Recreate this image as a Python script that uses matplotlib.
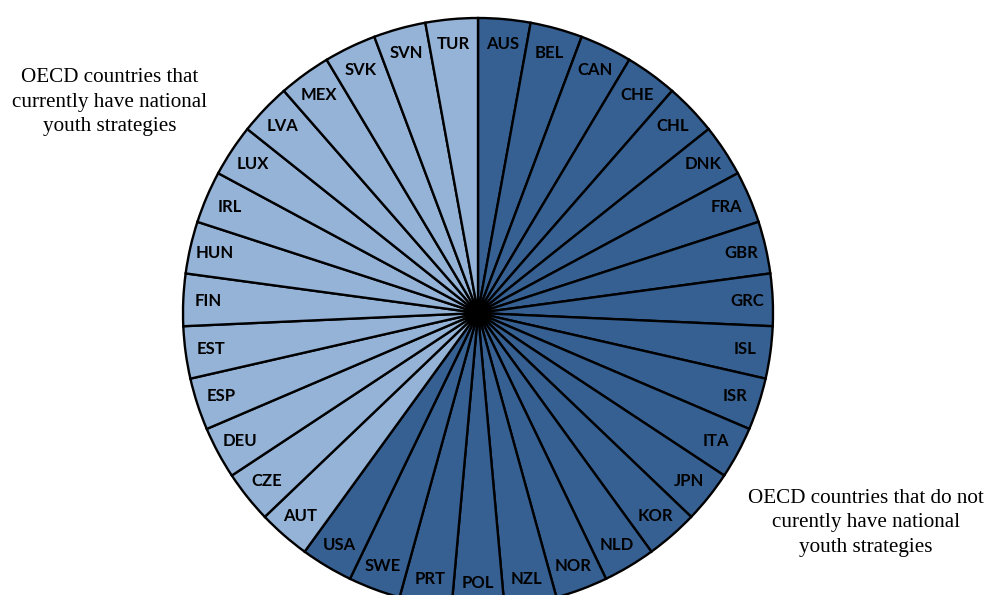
import matplotlib
matplotlib.use("Agg")
import matplotlib.pyplot as plt

# Countries, clockwise from 12 o'clock
no_strategy = ["AUS", "BEL", "CAN", "CHE", "CHL", "DNK", "FRA", "GBR", "GRC",
               "ISL", "ISR", "ITA", "JPN", "KOR", "NLD", "NOR", "NZL", "POL",
               "PRT", "SWE", "USA"]
has_strategy = ["AUT", "CZE", "DEU", "ESP", "EST", "FIN", "HUN", "IRL", "LUX",
                "LVA", "MEX", "SVK", "SVN", "TUR"]
slice_sizes = [1] * (len(no_strategy) + len(has_strategy))

DARK = "#366092"
LIGHT = "#95b3d7"

labels = no_strategy + has_strategy
colors = [DARK] * len(no_strategy) + [LIGHT] * len(has_strategy)

fig = plt.figure(figsize=(9.86, 5.95), dpi=100)
ax = fig.add_axes([0, 0, 1, 1])

wedges, texts = ax.pie(
    slice_sizes,
    labels=labels,
    colors=colors,
    startangle=90,
    counterclock=False,
    center=(478, 282),
    radius=295,
    labeldistance=0.915,
    frame=True,
    wedgeprops=dict(edgecolor="black", linewidth=1.7),
    textprops=dict(fontsize=12, fontweight="bold", family="Lato",
                   color="black"),
)
for t in texts:
    t.set_ha("center")
    t.set_va("center")

ax.set_xlim(0, 986)
ax.set_ylim(0, 595)
ax.set_aspect("equal")
ax.axis("off")

ax.text(110, 493, "OECD countries that\ncurrently have national\nyouth strategies",
        ha="center", va="center", family="Liberation Serif", fontsize=15.2,
        linespacing=1.4)
ax.text(866, 72, "OECD countries that do not\ncurently have national\nyouth strategies",
        ha="center", va="center", family="Liberation Serif", fontsize=15.2,
        linespacing=1.4)

fig.savefig("out.png", dpi=100)
